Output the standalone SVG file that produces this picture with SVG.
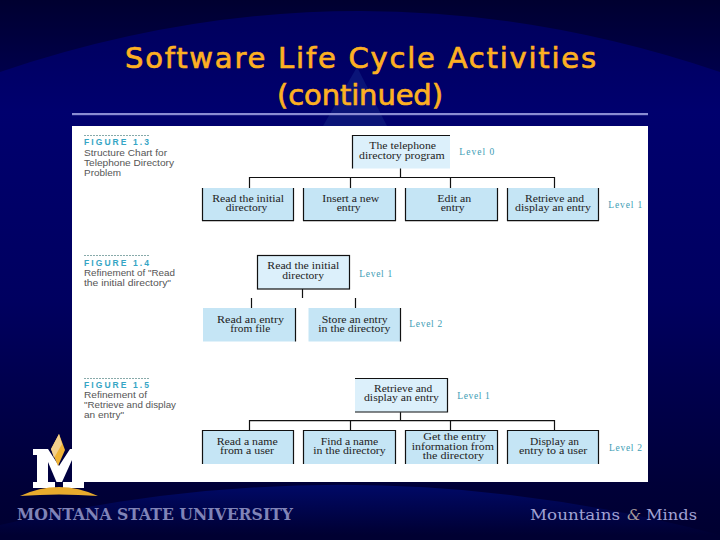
<svg xmlns="http://www.w3.org/2000/svg" width="720" height="540" viewBox="0 0 720 540">
<style>
.n{font-family:"Liberation Serif",serif;font-size:9.5px;fill:#222}
.l{font-family:"Liberation Serif",serif;font-size:9.5px;fill:#3d9db5}
.c{font-family:"Liberation Sans",sans-serif;font-size:9.5px;fill:#555}
.f{font-family:"Liberation Sans",sans-serif;font-size:8.5px;font-weight:bold;fill:#35a5c5}
.t{font-family:"DejaVu Sans",sans-serif;font-size:29px;fill:#fdb022;stroke:#fdb022;stroke-width:.7;font-variant-ligatures:none}
.b{fill:#c5e5f5}
.r{fill:#dcf0fb}
.k{stroke:#111;stroke-width:1.2;fill:none}
.d{stroke:#8aa;stroke-width:1;stroke-dasharray:2 1;fill:none}
</style>
<defs>
<linearGradient id="bg" gradientUnits="userSpaceOnUse" x1="0" y1="0" x2="0" y2="540"><stop offset="0" stop-color="#000030"/><stop offset=".14" stop-color="#00004c"/><stop offset=".555" stop-color="#000060"/><stop offset=".9" stop-color="#000038"/><stop offset="1" stop-color="#000030"/></linearGradient>
<linearGradient id="top" gradientUnits="userSpaceOnUse" x1="0" y1="10" x2="0" y2="300"><stop offset="0" stop-color="#00005c"/><stop offset=".35" stop-color="#00006e"/><stop offset="1" stop-color="#000060"/></linearGradient>
<linearGradient id="low" gradientUnits="userSpaceOnUse" x1="0" y1="480" x2="0" y2="535"><stop offset="0" stop-color="#000a6c"/><stop offset="1" stop-color="#000032"/></linearGradient>
</defs>
<rect width="720" height="540" fill="url(#bg)"/>
<path d="M0 72Q360 -50 720 72V300H0Z" fill="url(#top)"/>
<path d="M0 525Q360 440 720 535V540H0Z" fill="url(#low)"/>
<polygon points="357,67 323,126 387,126" fill="#0a1478"/>
<rect x="72" y="113" width="576" height="2.2" fill="#8a8cd2"/>
<text class="t" x="125" y="68" textLength="471">Software Life Cycle Activities</text>
<text class="t" x="277" y="104.5" textLength="166">(continued)</text>
<g id="logo">
<polygon points="33,449 48,449 59,466 70,449 84,449 84,488 63,488 63,482 55,482 55,488 33,488 33,482 37,482 37,455 33,455" fill="#fff"/>
<polygon points="48,462 48,482 56.5,482" fill="#000040"/>
<polygon points="72,460 62,482 72,482" fill="#000040"/>
<polygon points="59,434 51,449 58,466 65,450" fill="#f0b437"/>
<polygon points="59,434 51,449 54,458 62,444" fill="#f3d08e"/>
<path d="M20 496Q59 478 98 496Q59 493 20 496Z" fill="#e8ab2d"/>
</g>
<rect x="72" y="126" width="576" height="356" fill="#fff"/>
<text x="17" y="520" textLength="276" lengthAdjust="spacingAndGlyphs" style="font-family:'DejaVu Serif',serif;font-weight:bold;font-size:16px;fill:#8084b8">MONTANA STATE UNIVERSITY</text>
<text x="530" y="520" textLength="90" lengthAdjust="spacingAndGlyphs" style="font-family:'DejaVu Serif',serif;font-size:15.5px;fill:#a0a2d4">Mountains</text>
<text x="627" y="520" textLength="14" lengthAdjust="spacingAndGlyphs" style="font-family:'DejaVu Serif',serif;font-style:italic;font-size:15.5px;fill:#a69a9a">&amp;</text>
<text x="646" y="520" textLength="51" lengthAdjust="spacingAndGlyphs" style="font-family:'DejaVu Serif',serif;font-size:15.5px;fill:#a0a2d4">Minds</text>

<g id="connectors" class="k">
<path d="M400.5 168V177.5M249.5 188V177.5H554.5V188M350.5 177.5V188M450.5 177.5V188"/>
<path d="M302.5 289V298M251.5 298V308M355.5 298V308"/>
<path d="M400.5 412V420.7M249.5 430V420.7H554.5V430M350.5 420.7V430M450.5 420.7V430"/>
</g>

<g id="fig13-caption">
<path class="d" d="M84 135.5H150"/>
<text class="f" x="84" y="145" textLength="65">FIGURE 1.3</text>
<text class="c" x="84" y="155.7" textLength="83" lengthAdjust="spacingAndGlyphs">Structure Chart for</text>
<text class="c" x="84" y="165.7" textLength="90" lengthAdjust="spacingAndGlyphs">Telephone Directory</text>
<text class="c" x="84" y="176" textLength="37" lengthAdjust="spacingAndGlyphs">Problem</text>
</g>
<g id="n-program">
<rect class="r" x="352" y="135" width="98" height="33.5"/>
<path class="k" d="M450 135.5H352.5V168.5"/>
<text class="n" x="369.3" y="149.3" textLength="66.7" lengthAdjust="spacingAndGlyphs">The telephone</text>
<text class="n" x="359" y="158.7" textLength="85.7" lengthAdjust="spacingAndGlyphs">directory program</text>
</g>
<g id="n-read13">
<rect class="b" x="202" y="188" width="91.5" height="33"/>
<path class="k" d="M202.5 188V220.7H293.5V188"/>
<text class="n" x="212.3" y="202" textLength="71.7" lengthAdjust="spacingAndGlyphs">Read the initial</text>
<text class="n" x="225.7" y="211.3" textLength="41.7" lengthAdjust="spacingAndGlyphs">directory</text>
</g>
<g id="n-insert">
<rect class="b" x="303" y="188" width="92.5" height="33"/>
<path class="k" d="M303.5 188V220.7H395.5V188"/>
<text class="n" x="322.3" y="202" textLength="57" lengthAdjust="spacingAndGlyphs">Insert a new</text>
<text class="n" x="336.7" y="211.3" textLength="24" lengthAdjust="spacingAndGlyphs">entry</text>
</g>
<g id="n-edit">
<rect class="b" x="405" y="188" width="92.5" height="33"/>
<path class="k" d="M405.5 188V220.7H497.5V188"/>
<text class="n" x="437.3" y="202" textLength="34" lengthAdjust="spacingAndGlyphs">Edit an</text>
<text class="n" x="440.7" y="211.3" textLength="24" lengthAdjust="spacingAndGlyphs">entry</text>
</g>
<g id="n-retrieve13">
<rect class="b" x="507" y="188" width="91.5" height="33"/>
<path class="k" d="M507.5 188V220.7H598.5V188"/>
<text class="n" x="525" y="202" textLength="59" lengthAdjust="spacingAndGlyphs">Retrieve and</text>
<text class="n" x="515" y="211.3" textLength="76" lengthAdjust="spacingAndGlyphs">display an entry</text>
</g>
<text class="l" x="459.3" y="155.3" textLength="35">Level 0</text>
<text class="l" x="608.3" y="207.7" textLength="34">Level 1</text>

<g id="fig14-caption">
<path class="d" d="M84 255.5H150"/>
<text class="f" x="84" y="265.7" textLength="65">FIGURE 1.4</text>
<text class="c" x="84" y="275.7" textLength="91" lengthAdjust="spacingAndGlyphs">Refinement of "Read</text>
<text class="c" x="84" y="285.7" textLength="87" lengthAdjust="spacingAndGlyphs">the initial directory"</text>
</g>
<g id="n-read14">
<rect class="r" x="257" y="255.5" width="92.5" height="33.5"/>
<rect class="k" x="257.5" y="255.5" width="92" height="33.5"/>
<text class="n" x="267.3" y="269.3" textLength="72" lengthAdjust="spacingAndGlyphs">Read the initial</text>
<text class="n" x="282.3" y="279.3" textLength="41.7" lengthAdjust="spacingAndGlyphs">directory</text>
</g>
<g id="n-readfile">
<rect class="b" x="203" y="308" width="92.5" height="33.5"/>
<path class="k" d="M295.5 308V341.5"/>
<text class="n" x="217" y="322.7" textLength="67" lengthAdjust="spacingAndGlyphs">Read an entry</text>
<text class="n" x="230.3" y="332" textLength="40" lengthAdjust="spacingAndGlyphs">from file</text>
</g>
<g id="n-store">
<rect class="b" x="308.5" y="308" width="92" height="33.5"/>
<path class="k" d="M400.5 308V341.5"/>
<text class="n" x="321.7" y="322.7" textLength="66" lengthAdjust="spacingAndGlyphs">Store an entry</text>
<text class="n" x="318.3" y="332" textLength="72" lengthAdjust="spacingAndGlyphs">in the directory</text>
</g>
<text class="l" x="359.3" y="276.7" textLength="33">Level 1</text>
<text class="l" x="409.3" y="327.3" textLength="33">Level 2</text>

<g id="fig15-caption">
<path class="d" d="M84 378.5H150"/>
<text class="f" x="84" y="387.7" textLength="65">FIGURE 1.5</text>
<text class="c" x="84" y="398.3" textLength="63" lengthAdjust="spacingAndGlyphs">Refinement of</text>
<text class="c" x="84" y="408" textLength="92" lengthAdjust="spacingAndGlyphs">"Retrieve and display</text>
<text class="c" x="84" y="418" textLength="40" lengthAdjust="spacingAndGlyphs">an entry"</text>
</g>
<g id="n-retrieve15">
<rect class="r" x="355" y="378.5" width="93" height="33.7"/>
<path class="k" d="M355 378.5H447.5V412H355"/>
<text class="n" x="374" y="391.7" textLength="58.3" lengthAdjust="spacingAndGlyphs">Retrieve and</text>
<text class="n" x="364" y="401.3" textLength="75" lengthAdjust="spacingAndGlyphs">display an entry</text>
</g>
<g id="n-readname">
<rect class="b" x="202" y="430.5" width="91.5" height="33.5"/>
<path class="k" d="M202.5 464V430.5H293.5V464"/>
<text class="n" x="216.7" y="445" textLength="61" lengthAdjust="spacingAndGlyphs">Read a name</text>
<text class="n" x="220" y="453.7" textLength="54" lengthAdjust="spacingAndGlyphs">from a user</text>
</g>
<g id="n-findname">
<rect class="b" x="303" y="430.5" width="92.5" height="33.5"/>
<path class="k" d="M303.5 464V430.5H395.5V464"/>
<text class="n" x="320.7" y="445" textLength="57.6" lengthAdjust="spacingAndGlyphs">Find a name</text>
<text class="n" x="313.3" y="453.7" textLength="72.4" lengthAdjust="spacingAndGlyphs">in the directory</text>
</g>
<g id="n-getentry">
<rect class="b" x="405" y="430.5" width="92.5" height="33.5"/>
<path class="k" d="M405.5 464V430.5H497.5V464"/>
<text class="n" x="423.3" y="440" textLength="62.7" lengthAdjust="spacingAndGlyphs">Get the entry</text>
<text class="n" x="411.7" y="450" textLength="82.3" lengthAdjust="spacingAndGlyphs">information from</text>
<text class="n" x="422.7" y="459.3" textLength="61.3" lengthAdjust="spacingAndGlyphs">the directory</text>
</g>
<g id="n-display">
<rect class="b" x="507" y="430.5" width="91.5" height="33.5"/>
<path class="k" d="M507.5 464V430.5H598.5V464"/>
<text class="n" x="530" y="445" textLength="49" lengthAdjust="spacingAndGlyphs">Display an</text>
<text class="n" x="519" y="454" textLength="68.3" lengthAdjust="spacingAndGlyphs">entry to a user</text>
</g>
<text class="l" x="457.3" y="399" textLength="32.4">Level 1</text>
<text class="l" x="609" y="451" textLength="33">Level 2</text>
</svg>
